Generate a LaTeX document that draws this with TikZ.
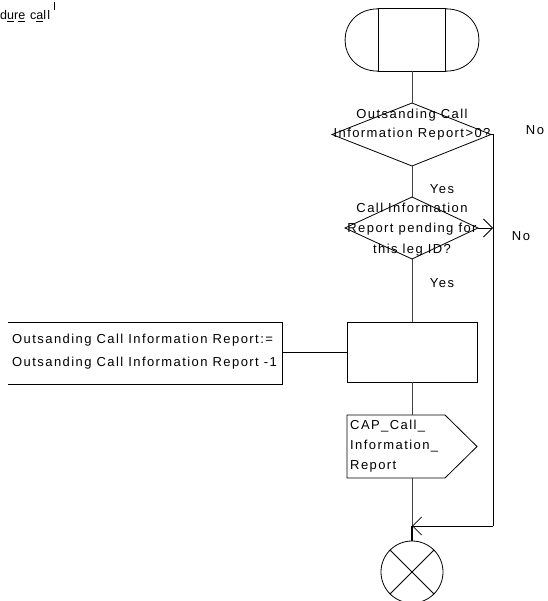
\documentclass[tikz,border=0pt]{standalone}
\usepackage{fontspec}
\setmainfont{Liberation Sans}[LetterSpace=11]
\usetikzlibrary{arrows.meta}
\begin{document}
\begin{tikzpicture}[x=1pt,y=-1pt,
  shapeline/.style={draw=black,line width=0.8pt},
  flow/.style={draw=black!75,line width=0.8pt},
  txt/.style={inner sep=0pt,font={\fontsize{13}{20}\selectfont}},
  openarrow/.style={-{Straight Barb[length=9pt,width=18pt,line width=0.8pt]}},
]
\useasboundingbox (0,0) rectangle (547,601);

% top-left fragment
\node[inner sep=0pt,anchor=west,font={\fontsize{12.5}{14}\selectfont}] (frag) at (0,16) {d\underline{u}r\underline{e} c\underline{a}ll};
\coordinate (tickA) at (54.5,2);
\coordinate (tickB) at (54.5,10);
\draw[line width=0.8pt] (tickA) -- (tickB);

% start symbol
\node[draw=none,minimum width=66pt,minimum height=62pt,inner sep=0pt] (start) at (412,40) {};
\draw[shapeline] (start.north west) rectangle (start.south east);
\draw[shapeline] (start.north west) .. controls +(-45,0) and +(-45,0) .. (start.south west);
\draw[shapeline] (start.north east) .. controls +(45,0) and +(45,0) .. (start.south east);

% decision 1
\coordinate (d1n) at (412,103);
\coordinate (d1s) at (412,166);
\coordinate (d1w) at (332,134.5);
\coordinate (d1e) at (491,134.5);
\draw[shapeline] (d1n) -- (d1e) -- (d1s) -- (d1w) -- cycle;
\node[txt,align=center,font={\fontsize{13}{19}\selectfont}] (d1) at (412,124.5) {Outsanding Call\\Information Report>0?};

% decision 2
\coordinate (d2n) at (412,197);
\coordinate (d2s) at (412,259);
\coordinate (d2w) at (345,228);
\coordinate (d2e) at (478,228);
\draw[shapeline] (d2n) -- (d2e) -- (d2s) -- (d2w) -- cycle;
\node[txt,align=center,font={\fontsize{13}{20.5}\selectfont}] (d2) at (412,229.5) {Call Information\\Report pending for\\this leg ID?};

% labels
\node[txt] (no1) at (535,130) {No};
\node[txt] (no2) at (521,236) {No};
\node[txt] (yes1) at (442,189) {Yes};
\node[txt] (yes2) at (442,283) {Yes};

% task box
\node[shapeline,minimum width=130pt,minimum height=60pt,inner sep=0pt] (task) at (412,352) {};

% text extension box
\coordinate (ctl) at (8,322);
\coordinate (ctr) at (282,322);
\coordinate (cbr) at (282,384);
\coordinate (cbl) at (8,384);
\draw[shapeline] (ctl) -- (ctr) -- (cbr) -- (cbl);
\coordinate (cmid) at (282,352);
\node[txt,anchor=north west,align=left,font={\fontsize{13}{22.5}\selectfont}] (ctext) at (12,334) {Outsanding Call Information Report:=\\Outsanding Call Information Report -1};

% output signal
\coordinate (o1) at (347,415);
\coordinate (o2) at (445,415);
\coordinate (o3) at (477,446.5);
\coordinate (o4) at (445,478);
\coordinate (o5) at (347,478);
\draw[shapeline] (o1) -- (o2) -- (o3) -- (o4) -- (o5) -- cycle;
\coordinate (outn) at (412,415);
\coordinate (outs) at (412,478);
\node[txt,anchor=north west,align=left,font={\fontsize{13}{20}\selectfont}] (otext) at (350,420) {CAP\_Call\_\\Information\_\\Report};

% end symbol
\node[circle,shapeline,minimum size=62pt,inner sep=0pt] (stop) at (412,572) {};
\draw[shapeline] (stop.north west) -- (stop.south east);
\draw[shapeline] (stop.north east) -- (stop.south west);

% connectors
\coordinate (merge) at (412,526);
\coordinate (rightTop) at (493,134.5);
\coordinate (rightMid) at (493,228);
\coordinate (rightBot) at (493,526);
\draw[flow] (start.south) -- (d1n);
\draw[flow] (d1s) -- (d2n);
\draw[flow] (d2s) -- (task.north);
\draw[flow] (task.south) -- (outn);
\draw[flow] (outs) -- (merge);
\draw[draw=black,line width=1.6pt] (merge) -- (stop.north);
\draw[shapeline] (d1e) -- (rightTop) -- (rightBot);
\draw[shapeline,openarrow] (rightBot) -- (merge);
\draw[shapeline,openarrow] (d2e) -- (rightMid);
\draw[shapeline] (cmid) -- (task.west);
\end{tikzpicture}
\end{document}
